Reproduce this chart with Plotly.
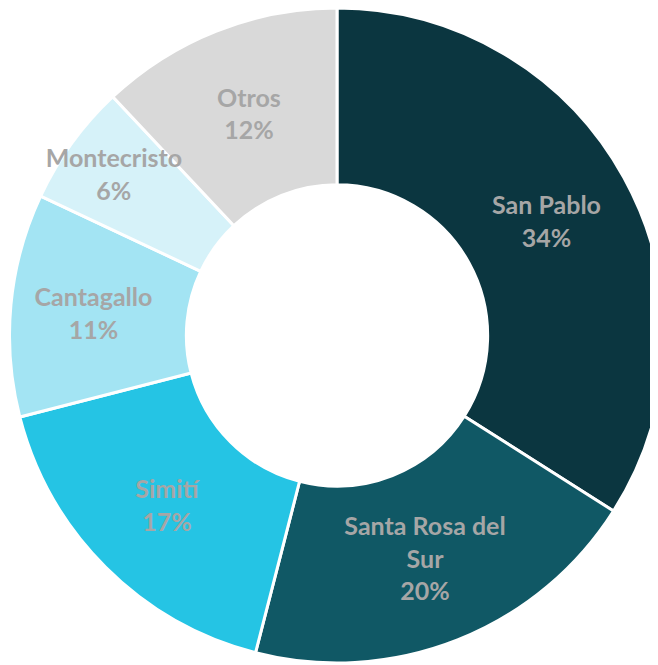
import plotly.graph_objects as go

labels = ["San Pablo", "Santa Rosa del Sur", "Simití", "Cantagallo", "Montecristo", "Otros"]
display_labels = ["San Pablo", "Santa Rosa del<br>Sur", "Simití", "Cantagallo", "Montecristo", "Otros"]
values = [34, 20, 17, 11, 6, 12]
colors = ["#0B3640", "#105865", "#25C4E4", "#A3E4F3", "#D6F2F9", "#D9D9D9"]

common = dict(
    labels=labels,
    values=values,
    sort=False,
    direction="clockwise",
    rotation=0,
    hole=0.46,
    showlegend=False,
)

# slices
fig = go.Figure(go.Pie(
    **common,
    textinfo="none",
    marker=dict(colors=colors, line=dict(color="white", width=3)),
))

# labels layer drawn above every slice
fig.add_trace(go.Pie(
    **common,
    text=display_labels,
    texttemplate="<b>%{text}</b><br><b>%{percent:.0%}</b>",
    textposition="inside",
    insidetextorientation="horizontal",
    marker=dict(colors=["rgba(0,0,0,0)"] * len(values), line=dict(width=0)),
    textfont=dict(family="Lato", size=25, color="#A6A6A6"),
    hoverinfo="skip",
))

fig.update_layout(
    width=658, height=665,
    margin=dict(l=0, r=0, t=0, b=10),
    paper_bgcolor="white",
    uniformtext=dict(minsize=25, mode="show"),
)

fig.write_html("out.html")
